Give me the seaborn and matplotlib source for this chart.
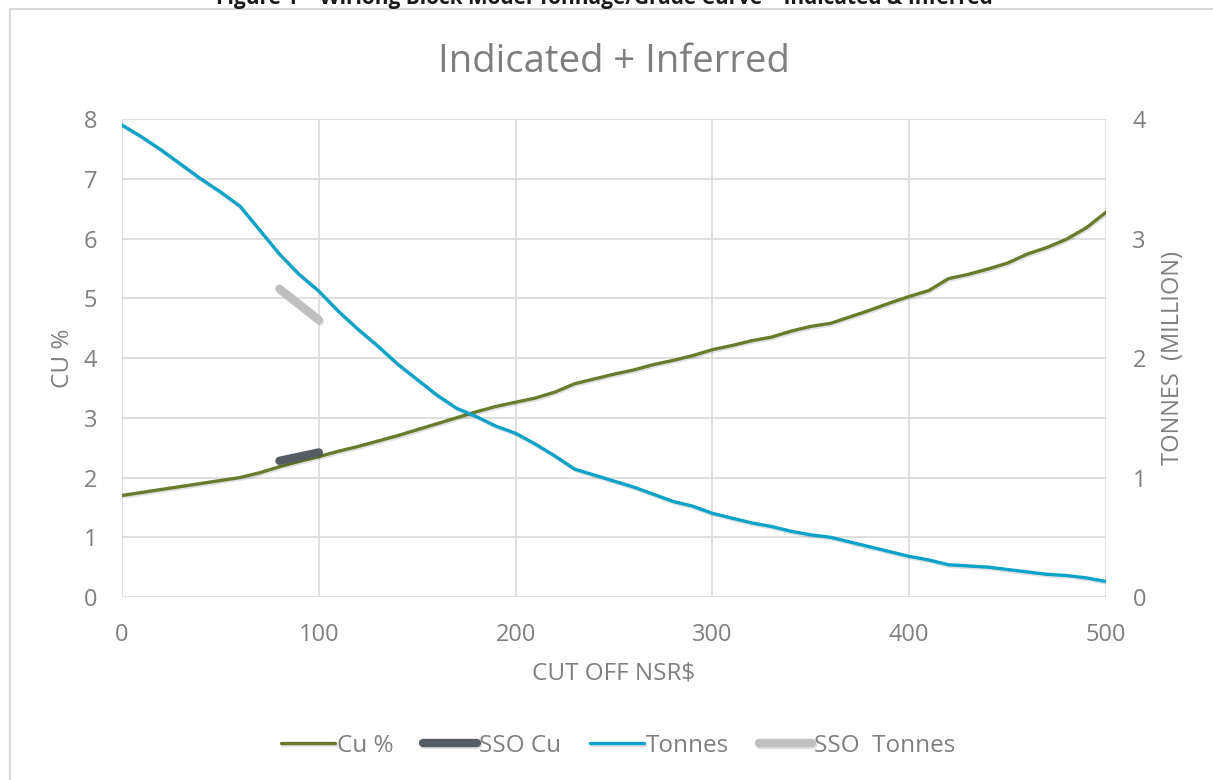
import numpy as np
import pandas as pd
import seaborn as sns
import matplotlib
matplotlib.use("Agg")
import matplotlib.pyplot as plt
import matplotlib.patheffects as pe
from matplotlib.patches import Rectangle

cutoff = list(range(0, 510, 10))
cu_grade = [1.70, 1.75, 1.80, 1.85, 1.90, 1.95, 2.00, 2.08, 2.18, 2.27,
            2.35, 2.44, 2.52, 2.61, 2.70, 2.80, 2.90, 3.00, 3.10, 3.19,
            3.26, 3.33, 3.43, 3.57, 3.65, 3.73, 3.80, 3.89, 3.96, 4.04,
            4.14, 4.21, 4.29, 4.35, 4.45, 4.53, 4.58, 4.69, 4.80, 4.92,
            5.03, 5.13, 5.33, 5.40, 5.49, 5.59, 5.74, 5.85, 5.99, 6.18,
            6.44]
tonnes = [3.95, 3.85, 3.74, 3.62, 3.50, 3.39, 3.27, 3.07, 2.87, 2.70,
          2.56, 2.39, 2.24, 2.10, 1.95, 1.82, 1.69, 1.58, 1.51, 1.43,
          1.37, 1.28, 1.18, 1.07, 1.02, 0.97, 0.92, 0.86, 0.80, 0.76,
          0.70, 0.66, 0.62, 0.59, 0.55, 0.52, 0.50, 0.46, 0.42, 0.38,
          0.34, 0.31, 0.27, 0.26, 0.25, 0.23, 0.21, 0.19, 0.18, 0.16,
          0.13]
sso_cutoff = [80, 100]
sso_cu = [2.28, 2.42]
sso_tonnes = [2.58, 2.32]

sns.set_style("white")
plt.rcParams['font.family'] = ['Open Sans', 'DejaVu Sans']

txt = "#7F7F7F"
c_cu = "#687C2C"
c_t = "#0AA2C8"
c_sso_cu = "#565C63"
c_sso_t = "#BFBFBF"
shadow = [pe.SimpleLineShadow(offset=(0.8, -1.2), shadow_color="#000000", alpha=0.12),
          pe.Normal()]

fig = plt.figure(figsize=(12.13, 7.80), dpi=100)
ax = fig.add_axes([0.1006, 0.2346, 0.8112, 0.6128])
ax2 = ax.twinx()

sns.lineplot(x=cutoff, y=cu_grade, ax=ax, color=c_cu, linewidth=2.4, label="Cu %")
sns.lineplot(x=sso_cutoff, y=sso_cu, ax=ax, color=c_sso_cu, linewidth=6,
             solid_capstyle="round", label="SSO Cu")
sns.lineplot(x=cutoff, y=tonnes, ax=ax2, color=c_t, linewidth=2.4, label="Tonnes")
sns.lineplot(x=sso_cutoff, y=sso_tonnes, ax=ax2, color=c_sso_t, linewidth=6,
             solid_capstyle="round", label="SSO  Tonnes")

for a in (ax, ax2):
    if a.get_legend():
        a.get_legend().remove()
    for s in a.spines.values():
        s.set_visible(False)
    for ln in a.get_lines():
        ln.set_path_effects(shadow)
    a.tick_params(length=0, labelsize=17, colors=txt)

ax.set_xlim(0, 500)
ax.set_ylim(0, 8)
ax2.set_ylim(0, 4)
ax.set_xticks(range(0, 501, 100))
ax.set_yticks(range(0, 9))
ax2.set_yticks(range(0, 5))
ax.grid(True, color="#D9D9D9", linewidth=1.2)
ax.set_axisbelow(True)
ax.tick_params(axis="x", pad=19)
ax.tick_params(axis="y", pad=18)
ax2.tick_params(axis="y", pad=19)

ax.set_xlabel("CUT OFF NSR$", fontsize=17.5, color=txt, labelpad=10)
ax.set_ylabel("CU %", fontsize=17.5, color=txt, labelpad=6)
ax2.set_ylabel("TONNES  (MILLION)", fontsize=17, color=txt, labelpad=11)

fig.text(0.506, 0.921, "Indicated + Inferred", fontsize=27.5, color=txt,
         ha="center", va="center")
fig.text(0.498, 1 - 4 / 780,
         "Figure 1 \u2013 Wirlong Block Model Tonnage/Grade Curve \u2013 Indicated & Inferred",
         fontsize=15, fontweight="bold", color="#1a1a1a", ha="center", va="baseline")

fig.patches.append(Rectangle((10 / 1213, -0.01), 1.2, 1 - 9 / 780 + 0.01,
                             transform=fig.transFigure, fill=False,
                             edgecolor="#D9D9D9", linewidth=1.5))

h1, l1 = ax.get_legend_handles_labels()
h2, l2 = ax2.get_legend_handles_labels()
handles = [h1[0], h1[1], h2[0], h2[1]]
labels = [l1[0], l1[1], l2[0], l2[1]]
fig.legend(handles, labels, loc="center", bbox_to_anchor=(0.51, 1 - 746 / 780),
           ncol=4, frameon=False, fontsize=17.5, labelcolor=txt,
           handlelength=2.2, handletextpad=0.1, columnspacing=1.2)

fig.savefig("out.png", dpi=100)
